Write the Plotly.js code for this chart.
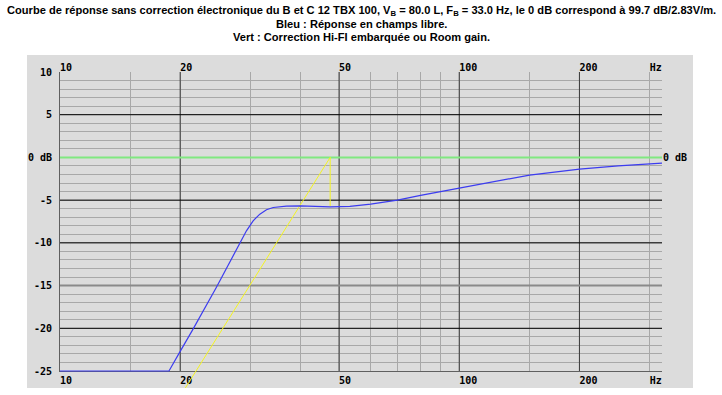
<!DOCTYPE html>
<html>
<head>
<meta charset="utf-8">
<script src="https://cdn.plot.ly/plotly-3.0.1.min.js"></script>
<style>html,body{margin:0;padding:0;background:#fff;}#chart{width:722px;height:395px;}</style>
</head>
<body>
<div id="chart"></div>
<script>
// Blue: free-field response (Hz, dB)
const blueFreq = [10, 18.75, 20, 21.54, 24.65, 27.13, 28.2, 29.31, 30.46, 31.66, 32.9, 34.2, 36.9, 40, 47.5, 53.2, 60, 70, 80, 90, 100, 150, 200, 250, 322];
const blueDb   = [-25, -25, -22.7, -20.1, -15.2, -11.5, -9.97, -8.59, -7.42, -6.64, -6.13, -5.86, -5.7, -5.66, -5.78, -5.74, -5.47, -5.0, -4.45, -3.98, -3.59, -2.07, -1.36, -0.98, -0.66];
// Yellow: correction (Hz, dB)
const yellowFreq = [20.6, 47.5, 47.5];
const yellowDb   = [-27, 0, -5.7];
// Green: 0 dB reference
const greenFreq = [10, 322];
const greenDb   = [0, 0];

// Axis labels / gridlines
const xGrid = [10, 15, 20, 30, 40, 50, 60, 70, 80, 90, 100, 150, 200, 300];
const xLabelVals = [10, 20, 50, 100, 200, 300];
const xLabelText = ['10', '20', '50', '100', '200', 'Hz'];
const xMajor = [20, 50, 100, 200];
const yGrid = [];
for (let v = -25; v <= 10; v++) yGrid.push(v);
const yLabelVals = [10, 5, 0, -5, -10, -15, -20, -25];
const yLabelText = ['10', '5', '0 dB', '-5', '-10', '-15', '-20', '-25'];
const yMajorBlack = [5, -5, -10, -20];
const yMajorGray = [-15];
const titleLines = [
  'Courbe de réponse sans correction électronique du B et C 12 TBX 100, V<sub>B</sub> = 80.0 L, F<sub>B</sub> = 33.0 Hz, le 0 dB correspond à 99.7 dB/2.83V/m.',
  'Bleu : Réponse en champs libre.',
  'Vert : Correction Hi-FI embarquée ou Room gain.'
];

const NB = '\u00a0';
function leftAlign(s) { return NB.repeat(s.length) + s; }
const bottomText = xGrid.map(v => { const i = xLabelVals.indexOf(v); return i >= 0 ? leftAlign(xLabelText[i]) : ''; });
const topText = xLabelText.map(leftAlign);
const yText = yGrid.map(v => { const i = yLabelVals.indexOf(v); return i >= 0 ? yLabelText[i] : ''; });

// geometry (pixels)
const W = 722, H = 395, mL = 60, mR = 60, mT = 72, mB = 7;
const plotH = H - mT - mB;            // 316
const mainBottomPx = 371;             // where -25 dB sits
const d = (H - mB - mainBottomPx) / plotH;
const xr = [1, Math.log10(322)];
const yr = [-25, 10];
const yr3 = [yr[0] - (yr[1] - yr[0]) * d / (1 - d), yr[1]];
const tickFont = {family: 'DejaVu Sans Mono', size: 10, color: '#000', weight: 'bold'};

const traces = [
  {x: greenFreq, y: greenDb, xaxis: 'x3', yaxis: 'y3', type: 'scatter', mode: 'lines', line: {color: '#80e880', width: 2}, hoverinfo: 'skip'},
  {x: yellowFreq, y: yellowDb, xaxis: 'x3', yaxis: 'y3', type: 'scatter', mode: 'lines', line: {color: '#f4f420', width: 1}, hoverinfo: 'skip'},
  {x: blueFreq, y: blueDb, xaxis: 'x3', yaxis: 'y3', type: 'scatter', mode: 'lines', line: {color: '#3c3cf0', width: 1.2}, hoverinfo: 'skip'},
  // anchors for the visible axes
  {x: [10], y: [0], xaxis: 'x', yaxis: 'y', mode: 'none', type: 'scatter', hoverinfo: 'skip'},
  {x: [10], y: [0], xaxis: 'x2', yaxis: 'y', mode: 'none', type: 'scatter', hoverinfo: 'skip'},
  {x: [10], y: [0], xaxis: 'x', yaxis: 'y2', mode: 'none', type: 'scatter', hoverinfo: 'skip'}
];

const plotW = W - mL - mR;
const shapes = [];
shapes.push({type: 'rect', xref: 'paper', yref: 'paper', x0: -33 / plotW, x1: 1 + 31 / plotW, y0: 0, y1: 1 + 17 / plotH, fillcolor: '#dcdcdc', line: {width: 0}, layer: 'below'});
xMajor.forEach(v => shapes.push({type: 'line', xref: 'x', yref: 'y', x0: v, x1: v, y0: yr[0], y1: yr[1], line: {color: '#3a3a3a', width: 1}, layer: 'between'}));
yMajorBlack.forEach(v => shapes.push({type: 'line', xref: 'x', yref: 'y', x0: 10, x1: 322, y0: v, y1: v, line: {color: '#000000', width: 1}, layer: 'between'}));
yMajorGray.forEach(v => shapes.push({type: 'line', xref: 'x', yref: 'y', x0: 10, x1: 322, y0: v, y1: v, line: {color: '#8a8a8a', width: 2}, layer: 'between'}));

const titleY = [11, 24, 36.5];
const annotations = titleLines.map((t, i) => ({
  text: t, xref: 'paper', yref: 'paper', x: (361 - mL) / plotW, y: 1 + (mT - titleY[i]) / plotH,
  xanchor: 'center', yanchor: 'middle', showarrow: false,
  font: {family: 'Liberation Sans', size: 11.1, color: '#000', weight: 'bold'}
}));

const layout = {
  width: W, height: H,
  margin: {l: mL, r: mR, t: mT, b: mB, pad: 0},
  paper_bgcolor: '#ffffff',
  plot_bgcolor: 'rgba(0,0,0,0)',
  showlegend: false,
  xaxis: {
    type: 'log', range: xr, domain: [0, 1], anchor: 'y', tickmode: 'array', tickvals: xGrid, ticktext: bottomText,
    showgrid: true, gridcolor: '#a8a8a8', gridwidth: 1, zeroline: false,
    showline: true, linecolor: '#606060', linewidth: 1, ticks: '', tickfont: tickFont,
    ticklabelstandoff: 0, fixedrange: true
  },
  xaxis2: {
    type: 'log', range: xr, overlaying: 'x', side: 'top', anchor: 'y', tickmode: 'array',
    tickvals: xLabelVals, ticktext: topText, showgrid: false, zeroline: false, showline: false,
    ticks: '', tickfont: tickFont, ticklabelstandoff: -2, fixedrange: true
  },
  yaxis: {
    range: yr, domain: [d, 1], anchor: 'x', tickmode: 'array', tickvals: yGrid, ticktext: yText,
    showgrid: true, gridcolor: '#a8a8a8', gridwidth: 1, zeroline: false,
    showline: true, linecolor: '#606060', linewidth: 1, ticks: '', tickfont: tickFont,
    ticklabelstandoff: 5, fixedrange: true
  },
  yaxis2: {
    range: yr, overlaying: 'y', side: 'right', anchor: 'x', tickmode: 'array',
    tickvals: [0], ticktext: ['0 dB'], showgrid: false, zeroline: false, showline: false,
    ticks: '', tickfont: tickFont, ticklabelstandoff: 0, fixedrange: true
  },
  xaxis3: {type: 'log', range: xr, domain: [0, 1], anchor: 'y3', visible: false, fixedrange: true},
  yaxis3: {range: yr3, domain: [0, 1], anchor: 'x3', visible: false, fixedrange: true},
  shapes: shapes,
  annotations: annotations
};

Plotly.newPlot('chart', traces, layout, {staticPlot: true, displayModeBar: false});
</script>
</body>
</html>
